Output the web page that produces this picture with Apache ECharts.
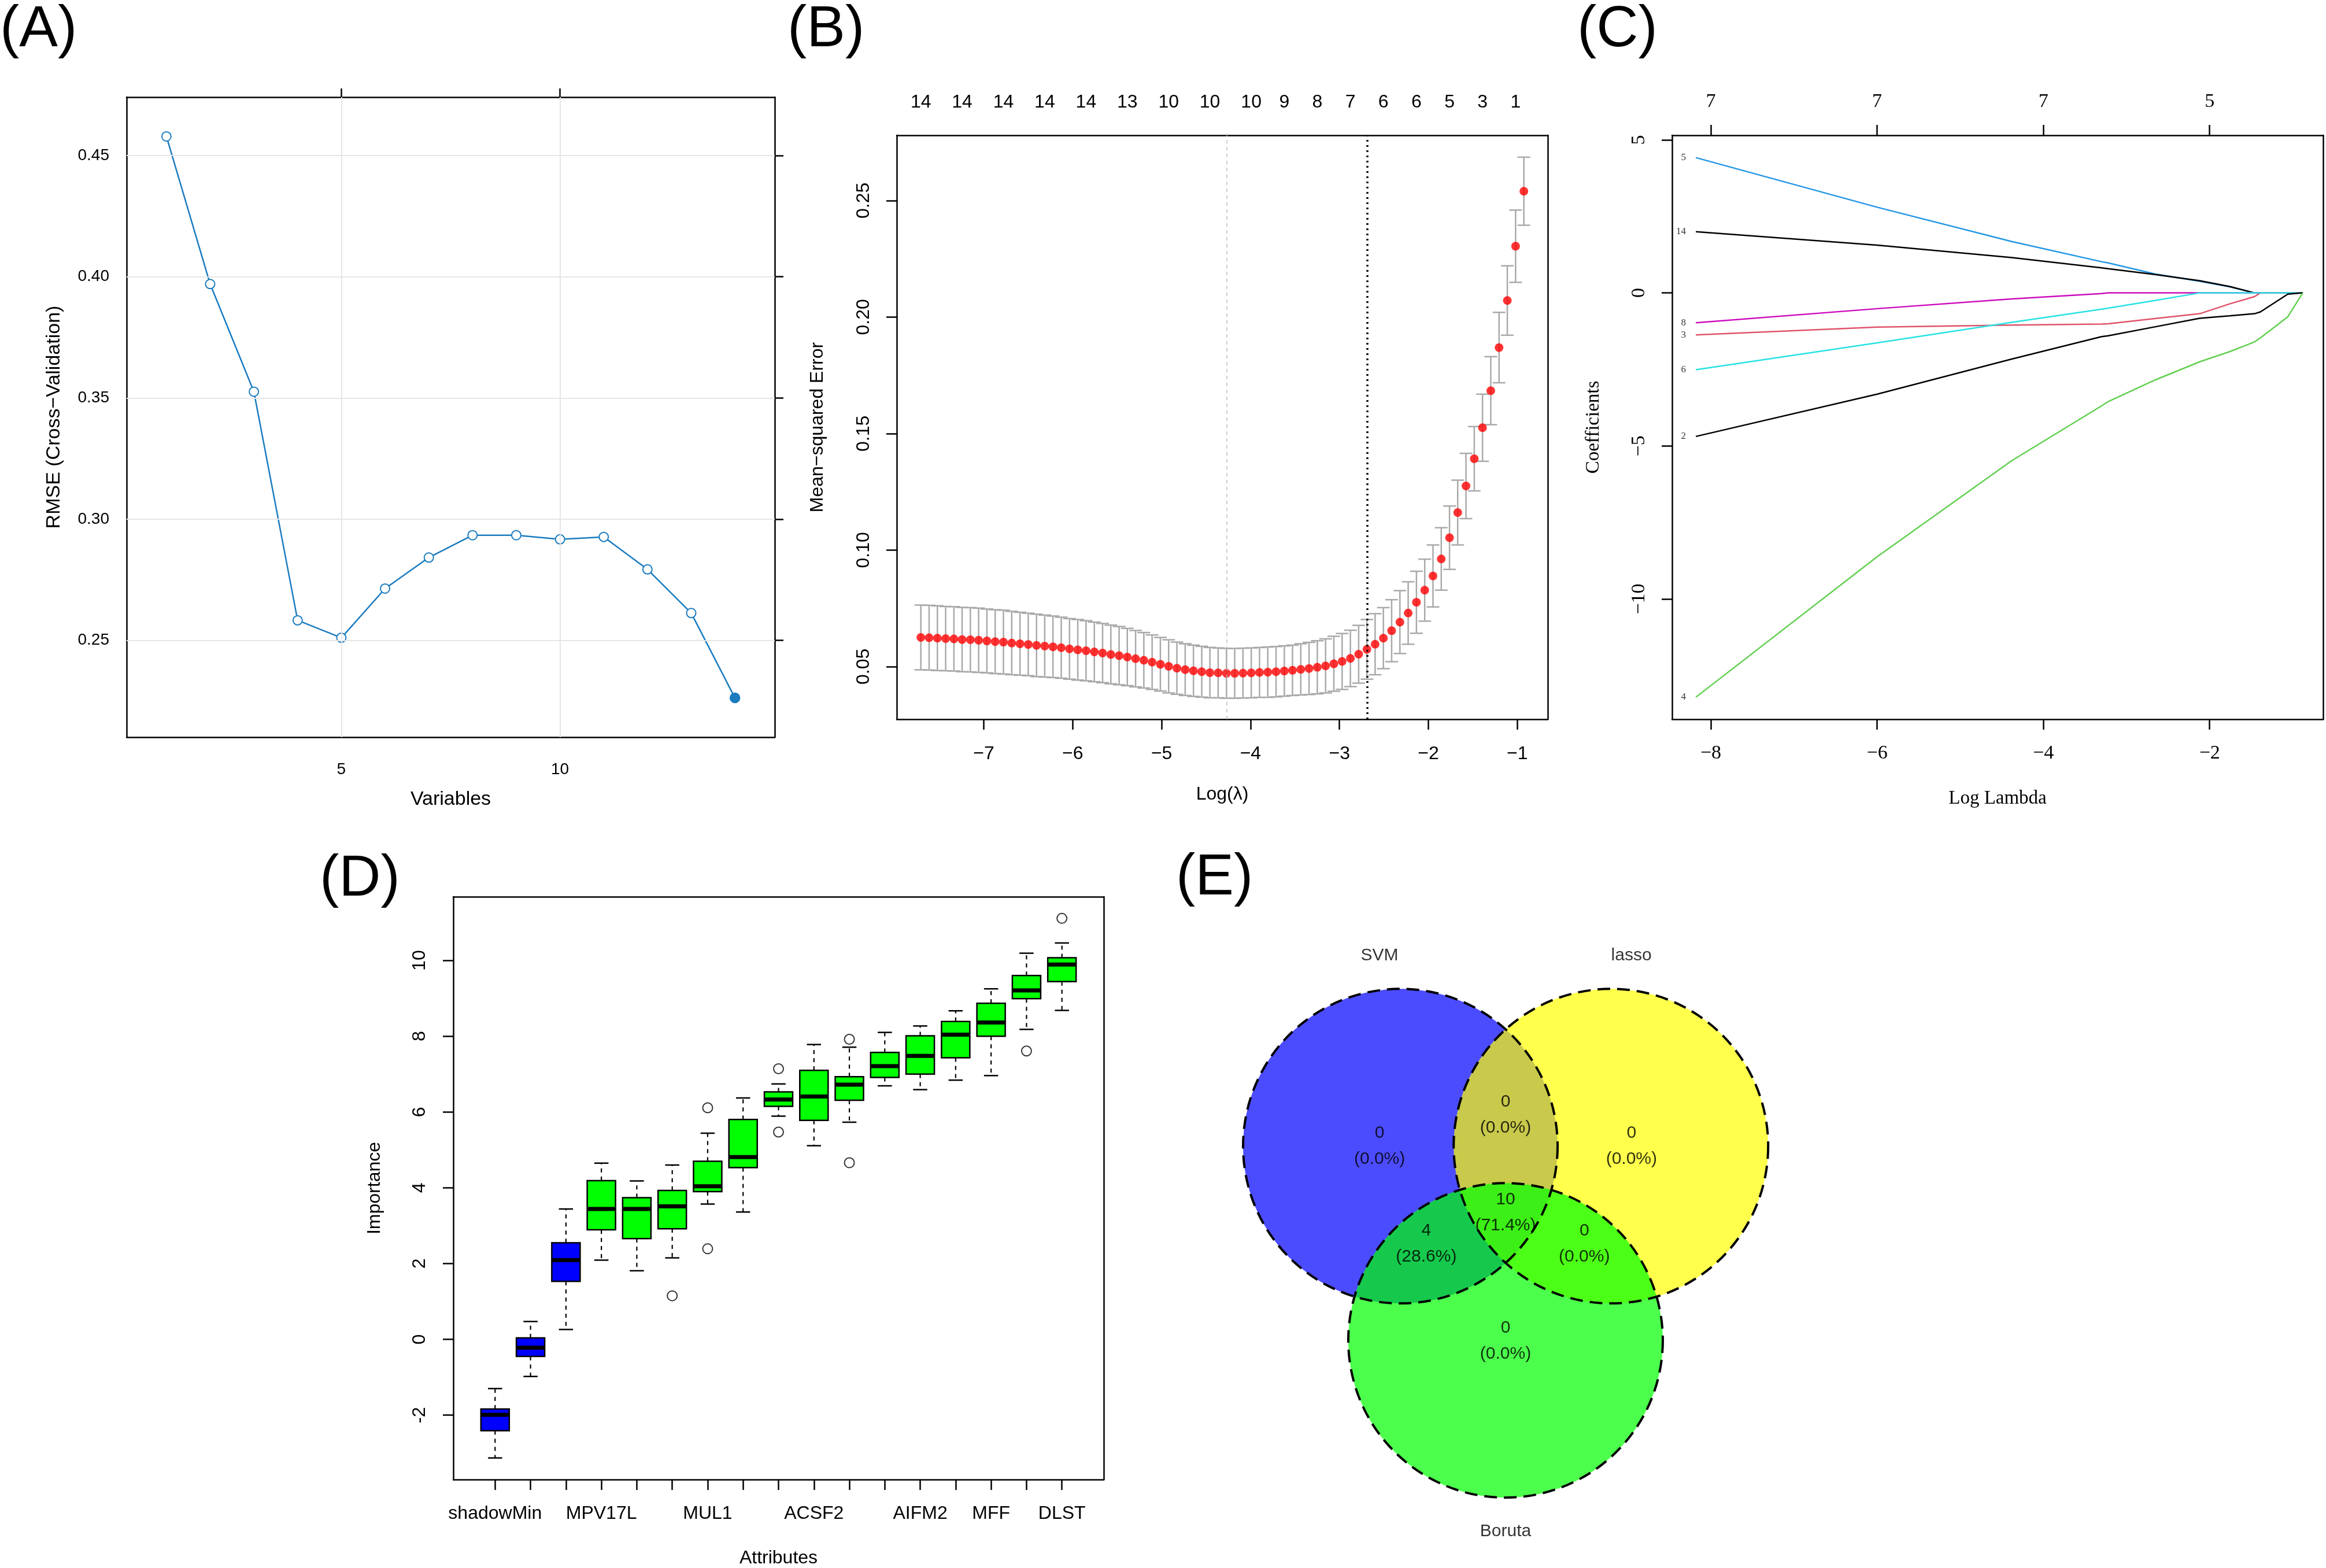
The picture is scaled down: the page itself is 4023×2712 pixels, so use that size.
<!DOCTYPE html>
<html>
<head>
<meta charset="utf-8">
<script src="https://cdn.jsdelivr.net/npm/echarts@6/dist/echarts.min.js"></script>
<style>
  html, body { margin: 0; padding: 0; background: #fff; }
  #main { width: 4023px; height: 2712px; }
</style>
</head>
<body>
<div id="main"></div>
<script>
// ---------- (A) recursive feature elimination ----------
var rfeVariables = [1, 2, 3, 4, 5, 6, 7, 8, 9, 10, 11, 12, 13, 14];
var rfeRmse = [0.4579, 0.3970, 0.3526, 0.2583, 0.2511, 0.2714, 0.2842, 0.2934, 0.2934, 0.2917, 0.2927, 0.2793, 0.2613, 0.2263];
var rfeBest = 14;

// ---------- (B) cv.glmnet curve ----------
var cvLogLambda = [
  -7.708, -7.615, -7.522, -7.429, -7.336, -7.244, -7.151, -7.058, -6.965, -6.872,
  -6.779, -6.686, -6.593, -6.500, -6.407, -6.315, -6.222, -6.129, -6.036, -5.943,
  -5.850, -5.757, -5.664, -5.571, -5.478, -5.386, -5.293, -5.200, -5.107, -5.014,
  -4.921, -4.828, -4.735, -4.642, -4.549, -4.457, -4.364, -4.271, -4.178, -4.085,
  -3.992, -3.899, -3.806, -3.713, -3.620, -3.528, -3.435, -3.342, -3.249, -3.156,
  -3.063, -2.970, -2.877, -2.784, -2.691, -2.599, -2.506, -2.413, -2.320, -2.227,
  -2.134, -2.041, -1.948, -1.855, -1.762, -1.670, -1.577, -1.484, -1.391, -1.298,
  -1.205, -1.112, -1.019, -0.926
];
var cvMse = [
  0.0625, 0.0624, 0.0622, 0.0620, 0.0619, 0.0616, 0.0615, 0.0613, 0.0610, 0.0607,
  0.0605, 0.0601, 0.0598, 0.0595, 0.0591, 0.0588, 0.0585, 0.0581, 0.0576, 0.0572,
  0.0568, 0.0563, 0.0558, 0.0552, 0.0547, 0.0541, 0.0534, 0.0527, 0.0519, 0.0510,
  0.0501, 0.0493, 0.0487, 0.0482, 0.0478, 0.0474, 0.0473, 0.0471, 0.0471, 0.0472,
  0.0473, 0.0475, 0.0476, 0.0478, 0.0481, 0.0484, 0.0488, 0.0492, 0.0497, 0.0503,
  0.0512, 0.0522, 0.0535, 0.0553, 0.0574, 0.0596, 0.0622, 0.0654, 0.0691, 0.0730,
  0.0776, 0.0828, 0.0889, 0.0962, 0.1053, 0.1161, 0.1275, 0.1392, 0.1525, 0.1684,
  0.1869, 0.2071, 0.2304, 0.2540
];
var cvSe = [
  0.0139, 0.0139, 0.0139, 0.0138, 0.0138, 0.0138, 0.0138, 0.0138, 0.0137, 0.0137,
  0.0137, 0.0136, 0.0135, 0.0134, 0.0134, 0.0133, 0.0132, 0.0131, 0.0130, 0.0130,
  0.0129, 0.0128, 0.0127, 0.0126, 0.0125, 0.0123, 0.0121, 0.0119, 0.0117, 0.0115,
  0.0114, 0.0112, 0.0111, 0.0110, 0.0109, 0.0108, 0.0107, 0.0107, 0.0107, 0.0107,
  0.0107, 0.0107, 0.0108, 0.0108, 0.0108, 0.0108, 0.0110, 0.0112, 0.0114, 0.0116,
  0.0118, 0.0120, 0.0121, 0.0124, 0.0128, 0.0131, 0.0131, 0.0133, 0.0135, 0.0134,
  0.0133, 0.0133, 0.0133, 0.0134, 0.0136, 0.0139, 0.0140, 0.0138, 0.0144, 0.0146,
  0.0151, 0.0149, 0.0155, 0.0146
];
var cvTopIndex = [0, 5, 10, 15, 20, 25, 30, 35, 40, 44, 48, 52, 56, 60, 64, 68, 72];
var cvTopNonzero = [14, 14, 14, 14, 14, 13, 10, 10, 10, 9, 8, 7, 6, 6, 5, 3, 1];
var lambdaMinIndex = 37;
var lambda1seIndex = 54;

// ---------- (C) coefficient paths ----------
var pathLogLambda = [-8.18, -6.00, -4.38, -3.30, -3.22, -2.66, -2.12, -1.76, -1.46, -1.39, -1.06, -0.88];
var pathVarNames = ['5', '14', '8', '3', '6', '2', '4'];
var pathCoef5  = [4.42, 2.80, 1.68, 1.02, 0.98, 0.62, 0.38, 0.20, 0, 0, 0, 0];
var pathCoef14 = [2.00, 1.56, 1.155, 0.82, 0.79, 0.60, 0.40, 0.21, 0, 0, 0, 0];
var pathCoef8  = [-0.975, -0.515, -0.196, -0.02, 0, 0, 0, 0, 0, 0, 0, 0];
var pathCoef3  = [-1.37, -1.115, -1.05, -1.02, -1.01, -0.84, -0.68, -0.36, -0.12, 0, 0, 0];
var pathCoef6  = [-2.51, -1.63, -0.96, -0.53, -0.50, -0.25, 0, 0, 0, 0, 0, 0];
var pathCoef2  = [-4.69, -3.31, -2.16, -1.43, -1.40, -1.11, -0.83, -0.75, -0.68, -0.62, -0.04, 0];
var pathCoef4  = [-13.21, -8.62, -5.48, -3.69, -3.55, -2.85, -2.25, -1.92, -1.60, -1.47, -0.78, 0];
var pathTopTicks = [-8, -6, -4, -2];
var pathTopNonzero = ['7', '7', '7', '5'];

// ---------- (D) Boruta importance ----------
var attrNames = ['shadowMin', 'shadowMean', 'shadowMax', 'MPV17L', '', '', 'MUL1', '', '',
  'ACSF2', '', '', 'AIFM2', '', 'MFF', '', 'DLST'];
var attrLabelTicks = [1, 4, 7, 10, 13, 15, 17];
var attrDecision = ['shadow', 'shadow', 'shadow', 'Confirmed', 'Confirmed', 'Confirmed', 'Confirmed',
  'Confirmed', 'Confirmed', 'Confirmed', 'Confirmed', 'Confirmed', 'Confirmed', 'Confirmed',
  'Confirmed', 'Confirmed', 'Confirmed'];
var attrMin    = [-3.13, -0.98, 0.26, 2.09, 1.81, 2.15, 3.57, 3.36, 5.89, 5.11, 5.73, 6.69, 6.59, 6.84, 6.96, 8.18, 8.68];
var attrQ1     = [-2.41, -0.45, 1.53, 2.89, 2.66, 2.92, 3.90, 4.53, 6.15, 5.78, 6.31, 6.91, 7.00, 7.43, 8.00, 8.99, 9.44];
var attrMedian = [-1.99, -0.22, 2.09, 3.44, 3.44, 3.51, 4.04, 4.81, 6.33, 6.41, 6.72, 7.21, 7.48, 8.04, 8.36, 9.21, 9.89];
var attrQ3     = [-1.84, 0.04, 2.55, 4.19, 3.74, 3.93, 4.70, 5.80, 6.53, 7.10, 6.93, 7.57, 8.01, 8.39, 8.87, 9.60, 10.07];
var attrMax    = [-1.30, 0.47, 3.44, 4.65, 4.18, 4.60, 5.44, 6.37, 6.74, 7.78, 7.71, 8.10, 8.27, 8.67, 9.25, 10.19, 10.46];
var outlierAttr  = [6, 7, 7, 9, 9, 11, 11, 16, 17];
var outlierValue = [1.15, 6.11, 2.39, 7.14, 5.47, 7.92, 4.66, 7.61, 11.11];

// ---------- (E) Venn ----------
var vennSets = ['SVM', 'lasso', 'Boruta'];
var vennRegions = ['SVM', 'lasso', 'SVM&lasso', 'SVM&lasso&Boruta', 'SVM&Boruta', 'lasso&Boruta', 'Boruta'];
var vennCounts = [0, 0, 0, 10, 4, 0, 0];

// ---------- layout / style ----------
var SANS = "'Liberation Sans', Arial, sans-serif";
var SERIF = "'Liberation Serif', 'Times New Roman', serif";
var MINUS = '\u2212';
var HIDDEN = 'rgba(0,0,0,0)';

// venn geometry in circle-radius units (layout, not data)
var vennCenters = [[0, 0], [1.339, 0], [0.669, -1.243]];
var vennRegionAnchors = [[-0.132, 0], [1.47, 0], [0.669, 0.202], [0.669, -0.426], [0.165, -0.625], [1.17, -0.625], [0.669, -1.246]];
var vennNameAnchors = [[-0.132, 1.22], [1.469, 1.22], [0.669, -2.465]];
var vennFills = ['rgba(0,0,255,0.7)', 'rgba(255,255,0,0.7)', 'rgba(0,255,0,0.7)'];

function withMinus(v) { return v < 0 ? MINUS + Math.abs(v) : String(v); }

function frame(grid, pos, min, max, extra) {
  var ax = {
    gridIndex: grid, type: 'value', position: pos, min: min, max: max,
    axisLine: { show: true, onZero: false, lineStyle: { color: '#000', width: 2.5 } },
    axisTick: { show: false },
    axisLabel: { show: false },
    splitLine: { show: false }
  };
  return Object.assign(ax, extra || {});
}
function ticks(values, len) {
  return { show: true, customValues: values, length: len, lineStyle: { color: '#000', width: 2.5 } };
}
function labels(values, fmt, size, margin, family, rotate) {
  return { show: true, customValues: values, formatter: fmt, fontSize: size, margin: margin,
    color: '#000', fontFamily: family, rotate: rotate || 0 };
}
function nameStyle(size, family) {
  return { fontSize: size, color: '#000', fontFamily: family };
}

var chart = echarts.init(document.getElementById('main'));

var rmseTicks = [0.25, 0.30, 0.35, 0.40, 0.45];
var cvTopPos = cvTopIndex.map(function (i) { return cvLogLambda[i]; });
var allAttrTicks = attrNames.map(function (n, i) { return i + 1; });
var vennTotal = vennCounts.reduce(function (a, b) { return a + b; }, 0);

var gridA = { left: 219, top: 168, width: 1121, height: 1107 };
var gridB = { left: 1551, top: 234, width: 1126, height: 1010 };
var gridC = { left: 2892, top: 234, width: 1126, height: 1010 };
var gridD = { left: 784, top: 1551, width: 1125, height: 1008 };
var gridE = { left: 2014, top: 1577, width: 1224, height: 1142.4 };

var panelTitle = function (t, left, top) {
  return { text: t, left: left, top: top, padding: 0,
    textStyle: { fontSize: 100, fontWeight: 'normal', fontFamily: SANS, color: '#000' } };
};

var rfeColor = '#1a7bbf';

var option = {
  animation: false,
  backgroundColor: '#fff',
  textStyle: { fontFamily: SANS },
  title: [
    panelTitle('(A)', 0, 2),
    panelTitle('(B)', 1362, 2),
    panelTitle('(C)', 2728, 2),
    panelTitle('(D)', 553, 1471),
    panelTitle('(E)', 2034, 1469)
  ],
  grid: [gridA, gridB, gridC, gridD, gridE],
  xAxis: [
    // A
    frame(0, 'bottom', 0.09, 14.91, {
      axisLabel: labels([5, 10], function (v) { return String(v); }, 28, 42, SANS),
      name: 'Variables', nameLocation: 'middle', nameGap: 91, nameTextStyle: nameStyle(34, SANS)
    }),
    frame(0, 'top', 0.09, 14.91, { axisTick: ticks([5, 10], 15) }),
    // B
    frame(1, 'bottom', -7.979, -0.657, {
      axisTick: ticks([-7, -6, -5, -4, -3, -2, -1], 18),
      axisLabel: labels([-7, -6, -5, -4, -3, -2, -1], withMinus, 32, 44, SANS),
      name: 'Log(\u03bb)', nameLocation: 'middle', nameGap: 114, nameTextStyle: nameStyle(32, SANS)
    }),
    frame(1, 'top', -7.979, -0.657, {
      axisLabel: labels(cvTopPos, function (v) {
        for (var k = 0; k < cvTopPos.length; k++) {
          if (Math.abs(cvTopPos[k] - v) < 1e-6) return String(cvTopNonzero[k]);
        }
        return '';
      }, 32, 41, SANS)
    }),
    // C
    frame(2, 'bottom', -8.466, -0.635, {
      axisTick: ticks([-8, -6, -4, -2], 18),
      axisLabel: labels([-8, -6, -4, -2], withMinus, 34, 42, SERIF),
      name: 'Log Lambda', nameLocation: 'middle', nameGap: 121, nameTextStyle: nameStyle(33, SERIF)
    }),
    frame(2, 'top', -8.466, -0.635, {
      axisTick: ticks(pathTopTicks, 18),
      axisLabel: labels(pathTopTicks, function (v) {
        return pathTopNonzero[pathTopTicks.indexOf(v)];
      }, 34, 41, SERIF)
    }),
    // D
    frame(3, 'bottom', -0.18, 18.18, {
      axisTick: ticks(allAttrTicks, 18),
      axisLabel: labels(attrLabelTicks, function (v) { return attrNames[v - 1]; }, 32, 43, SANS),
      name: 'Attributes', nameLocation: 'middle', nameGap: 120, nameTextStyle: nameStyle(32, SANS)
    }),
    frame(3, 'top', -0.18, 18.18),
    // E
    { gridIndex: 4, type: 'value', min: -1.5, max: 3.0, show: false }
  ],
  yAxis: [
    // A
    frame(0, 'left', 0.2101, 0.4741, {
      axisLabel: labels(rmseTicks, function (v) { return v.toFixed(2); }, 28, 30, SANS),
      name: 'RMSE (Cross\u2212Validation)', nameLocation: 'middle', nameGap: 108, nameTextStyle: nameStyle(34, SANS)
    }),
    frame(0, 'right', 0.2101, 0.4741, { axisTick: ticks(rmseTicks, 15) }),
    // B
    frame(1, 'left', 0.0274, 0.278, {
      axisTick: ticks([0.05, 0.10, 0.15, 0.20, 0.25], 18),
      axisLabel: labels([0.05, 0.10, 0.15, 0.20, 0.25], function (v) { return v.toFixed(2); }, 32, 41, SANS, 90),
      name: 'Mean\u2212squared Error', nameLocation: 'middle', nameGap: 121, nameTextStyle: nameStyle(32, SANS)
    }),
    frame(1, 'right', 0.0274, 0.278),
    // C
    frame(2, 'left', -13.93, 5.15, {
      axisTick: ticks([-10, -5, 0, 5], 18),
      axisLabel: labels([-10, -5, 0, 5], withMinus, 34, 40, SERIF, 90),
      name: 'Coefficients', nameLocation: 'middle', nameGap: 119, nameTextStyle: nameStyle(33, SERIF)
    }),
    frame(2, 'right', -13.93, 5.15),
    // D
    frame(3, 'left', -3.70, 11.68, {
      axisTick: ticks([-2, 0, 2, 4, 6, 8, 10], 18),
      axisLabel: labels([-2, 0, 2, 4, 6, 8, 10], function (v) { return String(v); }, 32, 42, SANS, 90),
      name: 'Importance', nameLocation: 'middle', nameGap: 120, nameTextStyle: nameStyle(32, SANS)
    }),
    frame(3, 'right', -3.70, 11.68),
    // E
    { gridIndex: 4, type: 'value', min: -2.7, max: 1.5, show: false }
  ],
  series: []
};

// ---- A series ----
option.series.push({
  type: 'line', xAxisIndex: 0, yAxisIndex: 0, data: [], z: 1, silent: true,
  markLine: {
    silent: true, symbol: 'none', label: { show: false },
    lineStyle: { color: '#e6e6e6', width: 2, type: 'solid' },
    data: [{ xAxis: 5 }, { xAxis: 10 }].concat(rmseTicks.map(function (v) { return { yAxis: v }; }))
  }
});
option.series.push({
  type: 'line', xAxisIndex: 0, yAxisIndex: 0, z: 3,
  data: rfeVariables.map(function (v, i) {
    var item = { value: [v, rfeRmse[i]] };
    if (v === rfeBest) { item.symbol = 'circle'; }
    return item;
  }),
  symbol: 'emptyCircle', symbolSize: 16,
  lineStyle: { color: rfeColor, width: 2.5 },
  itemStyle: { color: rfeColor, borderColor: rfeColor, borderWidth: 2.5 }
});

// ---- B series ----
option.series.push({
  type: 'custom', xAxisIndex: 2, yAxisIndex: 2, z: 2,
  data: cvLogLambda.map(function (x, i) { return [x, cvMse[i] - cvSe[i], cvMse[i] + cvSe[i]]; }),
  encode: { x: 0, y: [1, 2] },
  renderItem: function (params, api) {
    var x = api.value(0);
    var lo = api.coord([x, api.value(1)]);
    var hi = api.coord([x, api.value(2)]);
    var half = 11;
    var st = { stroke: '#a9a9a9', lineWidth: 2.5 };
    return { type: 'group', children: [
      { type: 'line', shape: { x1: lo[0], y1: lo[1], x2: hi[0], y2: hi[1] }, style: st },
      { type: 'line', shape: { x1: lo[0] - half, y1: lo[1], x2: lo[0] + half, y2: lo[1] }, style: st },
      { type: 'line', shape: { x1: hi[0] - half, y1: hi[1], x2: hi[0] + half, y2: hi[1] }, style: st }
    ] };
  }
});
option.series.push({
  type: 'scatter', xAxisIndex: 2, yAxisIndex: 2, z: 4,
  data: cvLogLambda.map(function (x, i) { return [x, cvMse[i]]; }),
  symbol: 'circle', symbolSize: 15, itemStyle: { color: '#ff0000' },
  markLine: {
    silent: true, symbol: 'none', label: { show: false },
    data: [
      { xAxis: cvLogLambda[lambdaMinIndex], lineStyle: { color: '#bbbbbb', width: 1.5, type: [6, 6] } },
      { xAxis: cvLogLambda[lambda1seIndex], lineStyle: { color: '#000', width: 3.5, type: [3, 6] } }
    ]
  }
});

// ---- C series ----
var pathCoefs = [pathCoef5, pathCoef14, pathCoef8, pathCoef3, pathCoef6, pathCoef2, pathCoef4];
var pathColors = ['#2297E6', '#000000', '#CD0BBC', '#DF536B', '#28E2E5', '#000000', '#61D04F'];
pathCoefs.forEach(function (coef, k) {
  option.series.push({
    type: 'line', xAxisIndex: 4, yAxisIndex: 4, z: 3,
    data: pathLogLambda.map(function (x, i) { return [x, coef[i]]; }),
    showSymbol: false, symbol: 'none',
    lineStyle: { color: pathColors[k], width: 2.5 }
  });
});
option.series.push({
  type: 'scatter', xAxisIndex: 4, yAxisIndex: 4, z: 4,
  data: pathCoefs.map(function (coef, k) { return [pathLogLambda[0], coef[0], pathVarNames[k]]; }),
  symbolSize: 2, itemStyle: { color: HIDDEN },
  label: { show: true, position: 'left', distance: 16, fontSize: 17, fontFamily: SERIF, color: '#000',
    formatter: function (p) { return p.value[2]; } }
});

// ---- D series ----
option.series.push({
  type: 'custom', xAxisIndex: 6, yAxisIndex: 6, z: 3,
  data: attrNames.map(function (n, i) {
    return [i + 1, attrMin[i], attrQ1[i], attrMedian[i], attrQ3[i], attrMax[i]];
  }),
  encode: { x: 0, y: [1, 2, 3, 4, 5] },
  renderItem: function (params, api) {
    var x = api.value(0);
    var pMin = api.coord([x, api.value(1)]);
    var pQ1 = api.coord([x, api.value(2)]);
    var pMed = api.coord([x, api.value(3)]);
    var pQ3 = api.coord([x, api.value(4)]);
    var pMax = api.coord([x, api.value(5)]);
    var half = api.size([0.4, 0])[0];
    var cap = api.size([0.2, 0])[0];
    var cx = pMed[0];
    var fill = attrDecision[params.dataIndex] === 'shadow' ? '#0000ff' : '#00ff00';
    var dash = { stroke: '#000', lineWidth: 2.2, lineDash: [7, 7] };
    var solid = { stroke: '#000', lineWidth: 2.5 };
    return { type: 'group', children: [
      { type: 'line', shape: { x1: cx, y1: pQ3[1], x2: cx, y2: pMax[1] }, style: dash },
      { type: 'line', shape: { x1: cx, y1: pQ1[1], x2: cx, y2: pMin[1] }, style: dash },
      { type: 'line', shape: { x1: cx - cap, y1: pMax[1], x2: cx + cap, y2: pMax[1] }, style: solid },
      { type: 'line', shape: { x1: cx - cap, y1: pMin[1], x2: cx + cap, y2: pMin[1] }, style: solid },
      { type: 'rect', shape: { x: cx - half, y: pQ3[1], width: 2 * half, height: pQ1[1] - pQ3[1] },
        style: { fill: fill, stroke: '#000', lineWidth: 2.5 } },
      { type: 'line', shape: { x1: cx - half, y1: pMed[1], x2: cx + half, y2: pMed[1] },
        style: { stroke: '#000', lineWidth: 7 } }
    ] };
  }
});
option.series.push({
  type: 'scatter', xAxisIndex: 6, yAxisIndex: 6, z: 4,
  data: outlierAttr.map(function (a, i) { return [a, outlierValue[i]]; }),
  symbol: 'emptyCircle', symbolSize: 17,
  itemStyle: { color: '#000', borderColor: '#000', borderWidth: 2.2 }
});

// ---- E series ----
option.series.push({
  type: 'custom', xAxisIndex: 8, yAxisIndex: 8, z: 2,
  data: vennSets.map(function (s, i) { return [vennCenters[i][0], vennCenters[i][1], 1]; }),
  renderItem: function (params, api) {
    var c = api.coord([api.value(0), api.value(1)]);
    var r = api.size([api.value(2), 0])[0];
    return { type: 'circle', shape: { cx: c[0], cy: c[1], r: r }, style: { fill: vennFills[params.dataIndex] } };
  }
});
option.series.push({
  type: 'custom', xAxisIndex: 8, yAxisIndex: 8, z: 3,
  data: vennSets.map(function (s, i) { return [vennCenters[i][0], vennCenters[i][1], 1]; }),
  renderItem: function (params, api) {
    var c = api.coord([api.value(0), api.value(1)]);
    var r = api.size([api.value(2), 0])[0];
    return { type: 'circle', shape: { cx: c[0], cy: c[1], r: r },
      style: { fill: 'none', stroke: '#000', lineWidth: 4, lineDash: [22, 12] } };
  }
});
option.series.push({
  type: 'scatter', xAxisIndex: 8, yAxisIndex: 8, z: 5,
  data: vennRegions.map(function (r, i) {
    return { name: r, value: [vennRegionAnchors[i][0], vennRegionAnchors[i][1], vennCounts[i]] };
  }),
  symbolSize: 2, itemStyle: { color: HIDDEN },
  label: { show: true, position: 'inside', fontSize: 30, lineHeight: 45, color: '#000', fontFamily: SANS,
    formatter: function (p) {
      var n = p.value[2];
      return n + '\n(' + (n / vennTotal * 100).toFixed(1) + '%)';
    } }
});
option.series.push({
  type: 'scatter', xAxisIndex: 8, yAxisIndex: 8, z: 5,
  data: vennSets.map(function (s, i) { return { name: s, value: vennNameAnchors[i] }; }),
  symbolSize: 2, itemStyle: { color: HIDDEN },
  label: { show: true, position: 'inside', fontSize: 30, color: '#000', fontFamily: SANS, formatter: '{b}' }
});

chart.setOption(option);
</script>
</body>
</html>
